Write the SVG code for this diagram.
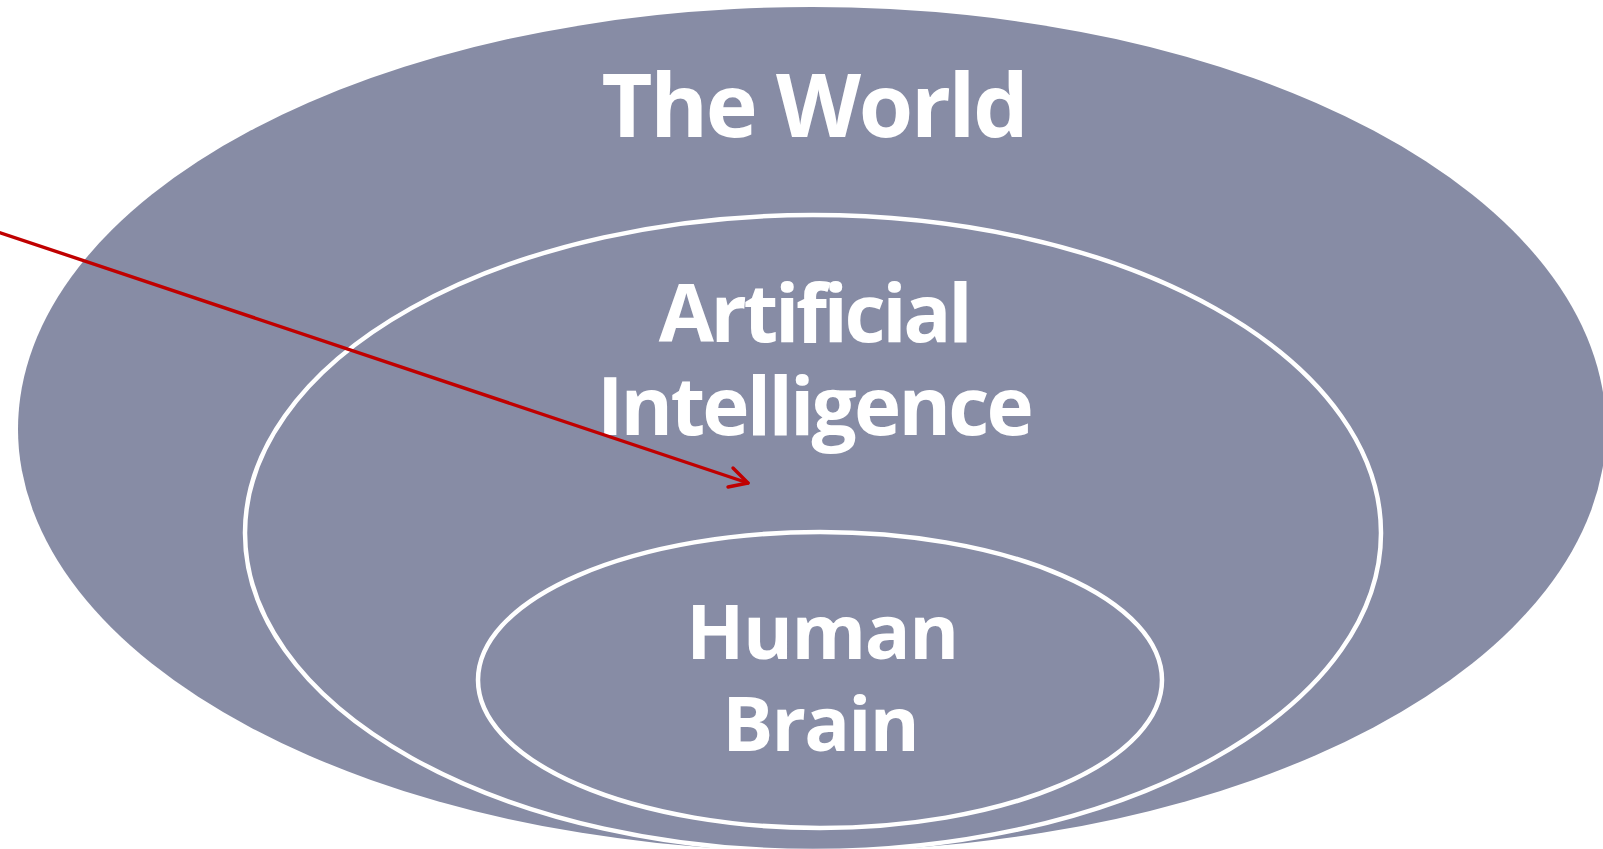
<svg xmlns="http://www.w3.org/2000/svg" width="1603" height="849" viewBox="0 0 1603 849">
<defs>
<style>
.fill{fill:#878CA5}
.ring{fill:none;stroke:#FFFFFF;stroke-width:4.5}
.lbl{font-family:"Open Sans","Liberation Sans",sans-serif;font-weight:bold;fill:#FFFFFF;text-anchor:middle;font-variant-ligatures:none}
.conn{fill:none;stroke:#C00000;stroke-width:3.4;stroke-linecap:round;stroke-linejoin:round}
</style>
</defs>
<rect width="1603" height="849" fill="#FFFFFF"/>
<g id="world">
<ellipse class="fill" cx="812" cy="429" rx="794" ry="422"/>
<text class="lbl" x="814" y="137" font-size="88" letter-spacing="-2.3">The World</text>
</g>
<g id="ai">
<ellipse class="ring" cx="813" cy="533" rx="568" ry="318"/>
<text class="lbl" x="814" y="342" font-size="80" letter-spacing="-3.4">Artificial</text>
<text class="lbl" x="814" y="435" font-size="80" letter-spacing="-2.8">Intelligence</text>
</g>
<g id="brain">
<ellipse class="ring" cx="820" cy="680" rx="342" ry="148"/>
<text class="lbl" x="822" y="659" font-size="76" letter-spacing="-1.4">Human</text>
<text class="lbl" x="820" y="751" font-size="76" letter-spacing="-1.8">Brain</text>
</g>
<g id="connectors">
<line class="conn" x1="-2" y1="232" x2="748" y2="483"/>
<polyline class="conn" points="733,468 748,483 728,487"/>
</g>
</svg>
